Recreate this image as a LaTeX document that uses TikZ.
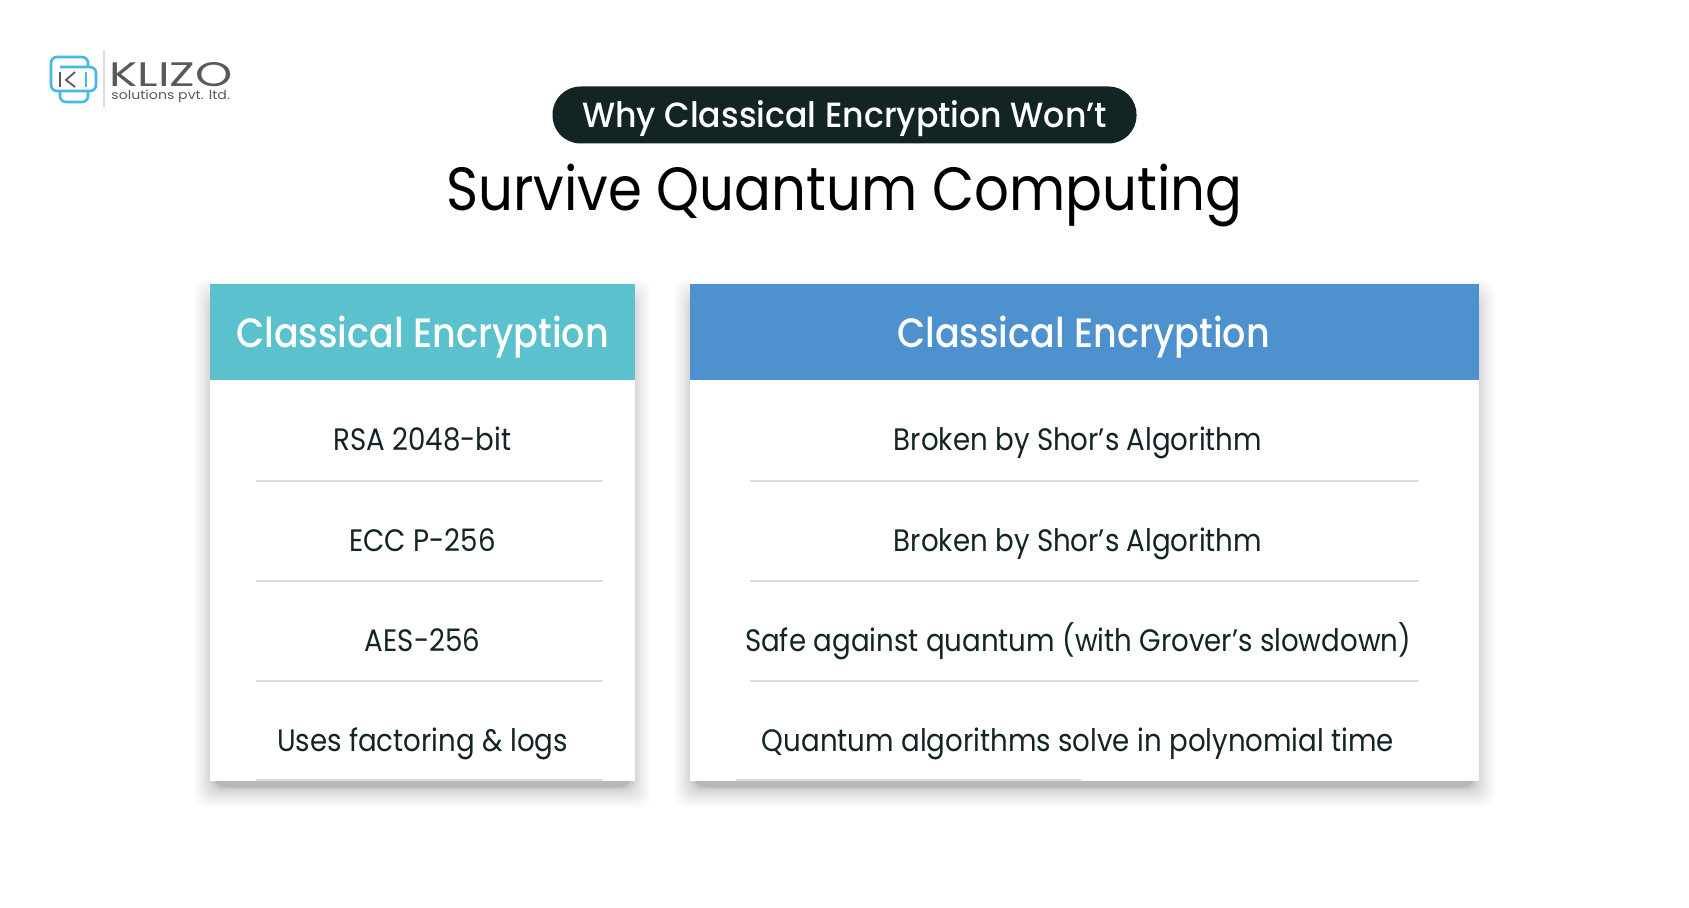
\documentclass[tikz,border=0pt]{standalone}
\usepackage{fontspec}
\setmainfont{Poppins}
\newfontfamily\logofont[FakeStretch=1.39]{Poppins}
\newfontfamily\logosubfont[FakeStretch=1.14]{Poppins}
\newfontfamily\titlefont[FakeStretch=0.895]{Poppins}
\newfontfamily\pillfont[FakeStretch=0.947]{Poppins Medium}
\newfontfamily\headfont[FakeStretch=0.892]{Poppins Medium}
\newfontfamily\rowfont[FakeStretch=0.892]{Poppins}
\definecolor{inkdark}{HTML}{132424}
\definecolor{tealhead}{HTML}{5BC1CC}
\definecolor{bluehead}{HTML}{4D91CF}
\definecolor{rulegrey}{HTML}{DCDCDC}
\definecolor{logoblue}{HTML}{45B8E8}
\definecolor{logogrey}{HTML}{58595B}
\tikzset{
  headtext/.style={text=white,font=\headfont\fontsize{20.5}{24}\selectfont,inner sep=0pt,anchor=base},
  rowtext/.style={text=inkdark,font=\rowfont\fontsize{15.5}{18}\selectfont,inner sep=0pt,anchor=base},
  rowline/.style={rulegrey,line width=1pt},
  logoline/.style={logoblue,line width=1.3pt,rounded corners=3pt},
}
\begin{document}
\begin{tikzpicture}[x=0.5pt,y=-0.5pt]
  \useasboundingbox (0,0) rectangle (1689,908);
  \fill[white] (0,0) rectangle (1689,908);
  % Logo
  \draw[logoline] (60,67) -- (96,67) -- (96,91) -- (51,91) -- (51,57) -- (88,57) -- (88,67);
  \draw[logoline] (60,91) -- (60,102) -- (88,102) -- (88,91);
  \draw[logogrey,line width=0.9pt] (60,72) -- (60,87) (75,72) -- (66,80) -- (75,87);
  \draw[logoblue,line width=1.3pt] (86,72) -- (86,87);
  \draw[rulegrey,line width=0.7pt] (104,50) -- (104,107);
  \node[text=logogrey,font=\logofont\fontsize{17}{18}\selectfont,inner sep=0pt,anchor=base west] (klizo) at (109,87) {KLIZO};
  \node[text=logogrey,font=\logosubfont\fontsize{6.2}{7}\selectfont,inner sep=0pt,anchor=base west] (pvt) at (111,100) {solutions pvt. ltd.};
  % Title
  \node[fill=inkdark,minimum width=292pt,minimum height=28.5pt,rounded corners=14pt,inner sep=0pt] (pill) at (844.5,115) {};
  \node[text=white,font=\pillfont\fontsize{17.5}{22}\selectfont,inner sep=0pt,anchor=base] (pilltext) at (844.5,128) {Why Classical Encryption Won’t};
  \node[text=black,font=\titlefont\fontsize{30.5}{36}\selectfont,inner sep=0pt,anchor=base] (title) at (844.5,211) {Survive Quantum Computing};
  % Shadows
  \foreach \i in {1,...,24} {
    \pgfmathsetmacro{\grow}{0.035*\i*\i}
    \fill[black,opacity=0.012,rounded corners=6pt] (214-\grow,300-\grow) rectangle (631+\grow,787+\grow);
    \fill[black,opacity=0.012,rounded corners=6pt] (694-\grow,300-\grow) rectangle (1475+\grow,787+\grow);
  }
  % Cards
  \fill[white] (210,284) rectangle (635,781);
  \fill[white] (690,284) rectangle (1479,781);
  \fill[tealhead] (210,284) rectangle (635,380);
  \fill[bluehead] (690,284) rectangle (1479,380);
  \node[headtext] (headleft) at (422.5,348) {Classical Encryption};
  \node[headtext] (headright) at (1083.5,348) {Classical Encryption};
  % Rows
  \foreach \y/\ltext/\rtext [count=\n] in {
    451/RSA 2048-bit/Broken by Shor’s Algorithm,
    551/ECC P-256/Broken by Shor’s Algorithm,
    651/AES-256/Safe against quantum (with Grover’s slowdown),
    751/Uses factoring \& logs/Quantum algorithms solve in polynomial time} {
    \node[rowtext] (rowl\n) at (422.5,\y) {\ltext};
    \node[rowtext] (rowr\n) at (1078,\y) {\rtext};
  }
  \foreach \y in {481,581,681} {
    \draw[rowline] (256,\y) -- (603,\y);
    \draw[rowline] (750,\y) -- (1419,\y);
  }
  \draw[rowline] (256,780) -- (603,780);
  \draw[rowline] (736,780) -- (1081,780);
\end{tikzpicture}
\end{document}
